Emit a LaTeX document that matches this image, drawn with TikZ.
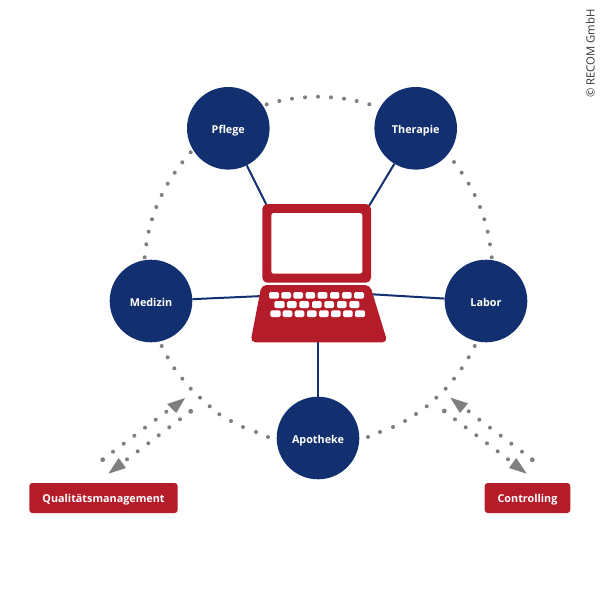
\documentclass[tikz,border=0pt]{standalone}
\usepackage{fontspec}
\setmainfont{Open Sans}
\definecolor{navy}{HTML}{12306F}
\definecolor{recred}{HTML}{B51C2A}
\definecolor{dotgray}{HTML}{7F7F7F}
\newcommand{\lowered}[1]{\raisebox{-5pt}[0pt][0pt]{#1}}
\newcommand{\loweredtag}[1]{\raisebox{-4.3pt}[0pt][0pt]{#1}}
\tikzset{
  hub/.style={circle,fill=navy,text=white,minimum size=82.6pt,inner sep=0pt,font=\fontsize{10.8}{12}\selectfont\bfseries},
  tag/.style={rectangle,rounded corners=3pt,fill=recred,text=white,minimum height=30pt,inner sep=0pt,font=\fontsize{10.8}{12}\selectfont\bfseries},
  link/.style={draw=navy,line width=2pt},
  dotmark/.style={fill=dotgray},
  tip/.style={fill=dotgray},
  keycap/.style={fill=white,rounded corners=1.5pt}
}
\begin{document}
\begin{tikzpicture}[x=1pt,y=-1pt]
\useasboundingbox (0,0) rectangle (600,600);
% dotted ring
\foreach \x/\y in {266.7/104.3,279.3/101,292/98.7,305/97.3,318/96.7,331/97.3,344/98.7,356.7/101,369.3/104.3,
 190.7/152.3,182.3/162.3,174.7/172.7,167.7/183.7,161.7/195,156.3/207,152/219.3,148.7/231.7,146.3/244.3,144.7/257.3,
 454/162,461.7/172.7,468.7/183.7,474.7/195,480/207,484.3/219.3,487.7/231.7,490/244.3,491.7/257.3}
  \fill[dotmark] (\x,\y) circle (2pt);
\foreach \x/\y in {161.7/346,167.7/357.3,174.3/368.3,182.3/378.7,190.7/388.7,200/397.7,209.7/406.3,219.3/414.3,231/421,243/427,256/432,268/437,
 474.7/346,468.7/357.3,461.7/368.3,454/378.7,445.7/388.7,436.3/397.7,426.7/406.3,416/414,405/421,393/427,380/432,368/437}
  \fill[dotmark] (\x,\y) circle (2pt);
% dotted double arrows, left
\foreach \x/\y in {113/451.7,123.7/443.7,134.3/435.7,145/427.7,155.7/419.7,166.3/411.7,127/459.3,137.7/451.3,148.3/443.3,158.7/435.3,169.3/427.3,180/419.3}
  \fill[dotmark] (\x,\y) circle (2pt);
\fill[dotmark] (102.7,459.7) circle (2.4pt);
\fill[dotmark] (190.7,411.3) circle (2.4pt);
\fill[tip] (185,398) -- (167,404) -- (176.3,413) -- cycle;
\fill[tip] (108.3,473.7) -- (118.7,458) -- (126,468) -- cycle;
% dotted double arrows, right
\foreach \x/\y in {455/419.3,465.7/427.3,476.3/435.3,487/443.3,497.7/451.3,508/459.3,468.7/411.3,479.3/419.7,490/427.7,500.7/435.7,511.3/443.7,522/451.7}
  \fill[dotmark] (\x,\y) circle (2pt);
\fill[dotmark] (444.3,411) circle (2.4pt);
\fill[dotmark] (532.3,459.7) circle (2.4pt);
\fill[tip] (450.3,397.7) -- (468,403.3) -- (460,413) -- cycle;
\fill[tip] (526.7,473.7) -- (516.3,458) -- (509,468) -- cycle;
% hubs
\node[hub] (pflege) at (228.3,128.3) {\lowered{Pflege}};
\node[hub] (therapie) at (415.7,128.3) {\lowered{Therapie}};
\node[hub] (medizin) at (151,301) {\lowered{Medizin}};
\node[hub] (labor) at (486,301) {\lowered{Labor}};
\node[hub] (apotheke) at (318,438) {\lowered{Apotheke}};
% connector ends at the laptop
\coordinate (lapA) at (267,206);
\coordinate (lapB) at (369,206);
\coordinate (lapC) at (263,296);
\coordinate (lapD) at (372,294.3);
\coordinate (lapE) at (318,341);
\draw[link] (pflege) -- (lapA);
\draw[link] (therapie) -- (lapB);
\draw[link] (medizin) -- (lapC);
\draw[link] (labor) -- (lapD);
\draw[link] (apotheke) -- (lapE);
% laptop
\fill[recred,rounded corners=5pt] (262.3,204) rectangle (371,282.7);
\fill[white,rounded corners=2.5pt] (271.3,213) rectangle (362.3,273.7);
\fill[recred,rounded corners=5pt] (261.5,285) -- (370,285) -- (387.5,342.3) -- (250.5,342.3) -- cycle;
\foreach \a/\b in {87/117,124/153,160/189,197/225,233/262,270/298,306/335,342/372}
  \fill[keycap] ({240+\a/3},{190+306/3}) rectangle ({240+\b/3},{190+326/3});
\foreach \a/\b in {103/134,141/170,178/207,216/245,253/282,291/320,328/358}
  \fill[keycap] ({240+\a/3},{190+333/3}) rectangle ({240+\b/3},{190+354/3});
\foreach \a/\b in {91/122,128/157,164/193,201/230,237/266,273/302,309/338,345/375}
  \fill[keycap] ({240+\a/3},{190+361/3}) rectangle ({240+\b/3},{190+381/3});
% tags
\node[tag,minimum width=148.4pt] (qm) at (103.5,498) {\loweredtag{Qualitätsmanagement}};
\node[tag,minimum width=85.6pt] (ctrl) at (527.5,498) {\loweredtag{Controlling}};
% credit
\node[rotate=90,anchor=west,inner sep=0pt,text=black!80,font=\fontsize{11.3}{13}\selectfont] (credit) at (590.5,98) {© RECOM GmbH};
\end{tikzpicture}
\end{document}
